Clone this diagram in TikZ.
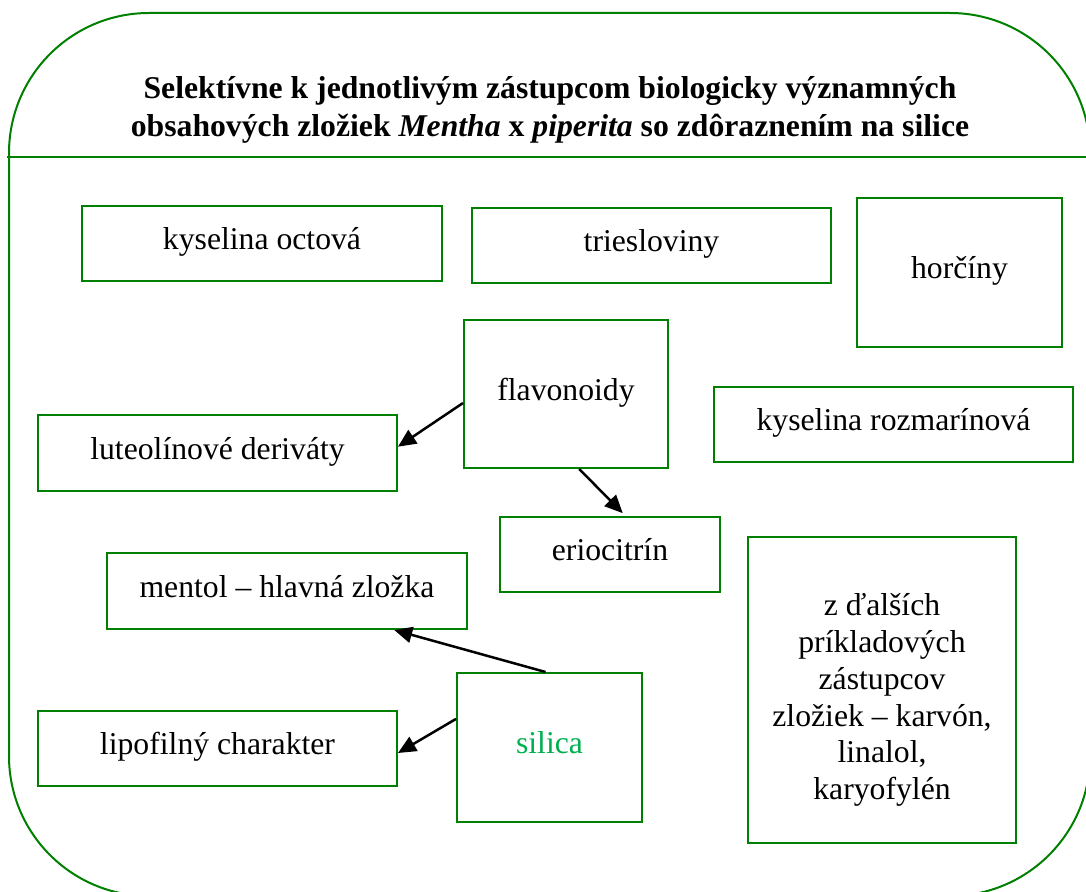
\documentclass[tikz,border=0pt]{standalone}
\usepackage{fontspec}
\setmainfont{Liberation Serif}
\usetikzlibrary{arrows.meta}
\definecolor{framegreen}{RGB}{0,128,0}
\definecolor{silicagreen}{RGB}{0,176,80}
\begin{document}
\begin{tikzpicture}[x=1pt,y=-1pt,
  frame/.style={draw=framegreen,line width=2pt},
  box/.style={draw=framegreen,line width=2pt,rectangle,inner sep=0pt,
    font=\fontsize{31.7}{36.8}\selectfont,text height=22pt,text depth=10pt},
  txt/.style={inner sep=0pt,font=\fontsize{31.7}{36.8}\selectfont,align=center},
  link/.style={draw=black,line width=2.5pt,-{Triangle[length=18pt,width=16pt]}}]

% canvas
\useasboundingbox (0,0) rectangle (1086,891);
\clip (0,0) rectangle (1086,891);

% outer rounded frame with heading band
\draw[frame,rounded corners=140pt] (9,13) rectangle (1090,896);
\draw[frame] (7,157) -- (1092,157);

% heading
\node[txt,font=\fontsize{31.7}{38}\selectfont\bfseries] (title) at (550,110)
  {Selektívne k jednotlivým zástupcom biologicky významných\\obsahových zložiek \textit{Mentha} x \textit{piperita} so zdôraznením na silice};

% content boxes
\node[box,minimum width=360pt,minimum height=75pt] (acetic) at (262,243.5) {kyselina octová};
\node[box,minimum width=359pt,minimum height=75pt] (tannins) at (651.5,245.5) {triesloviny};
\node[box,minimum width=205pt,minimum height=149pt] (bitter) at (959.5,272.5) {horčíny};
\node[box,minimum width=204pt,minimum height=148pt] (flav) at (566,394) {flavonoidy};
\node[box,minimum width=359pt,minimum height=75pt] (rosm) at (893.5,424.5) {kyselina rozmarínová};
\node[box,minimum width=359pt,minimum height=76pt] (lut) at (217.5,453) {luteolínové deriváty};
\node[box,minimum width=220pt,minimum height=75pt] (erio) at (610,554.5) {eriocitrín};
\node[box,minimum width=360pt,minimum height=76pt] (ment) at (287,591) {mentol – hlavná zložka};
\node[box,minimum width=268pt,minimum height=306pt] (other) at (882,690) {};
\node[txt] (othertext) at (882,700)
  {z ďalších\\príkladových\\zástupcov\\zložiek – karvón,\\linalol,\\karyofylén};
\node[box,minimum width=359pt,minimum height=75pt] (lipo) at (217.5,748.5) {lipofilný charakter};
\node[box,minimum width=185pt,minimum height=149pt,text=silicagreen] (silica) at (549.5,747.5) {silica};

% connectors
\draw[link] (flav.185) -- (lut.2);
\draw[link,shorten >=4pt] (flav.280) -- (erio.68);
\draw[link] (silica.93) -- (ment.340);
\draw[link] (silica.163) -- ([yshift=-4.5pt]lipo.east);
\end{tikzpicture}
\end{document}
